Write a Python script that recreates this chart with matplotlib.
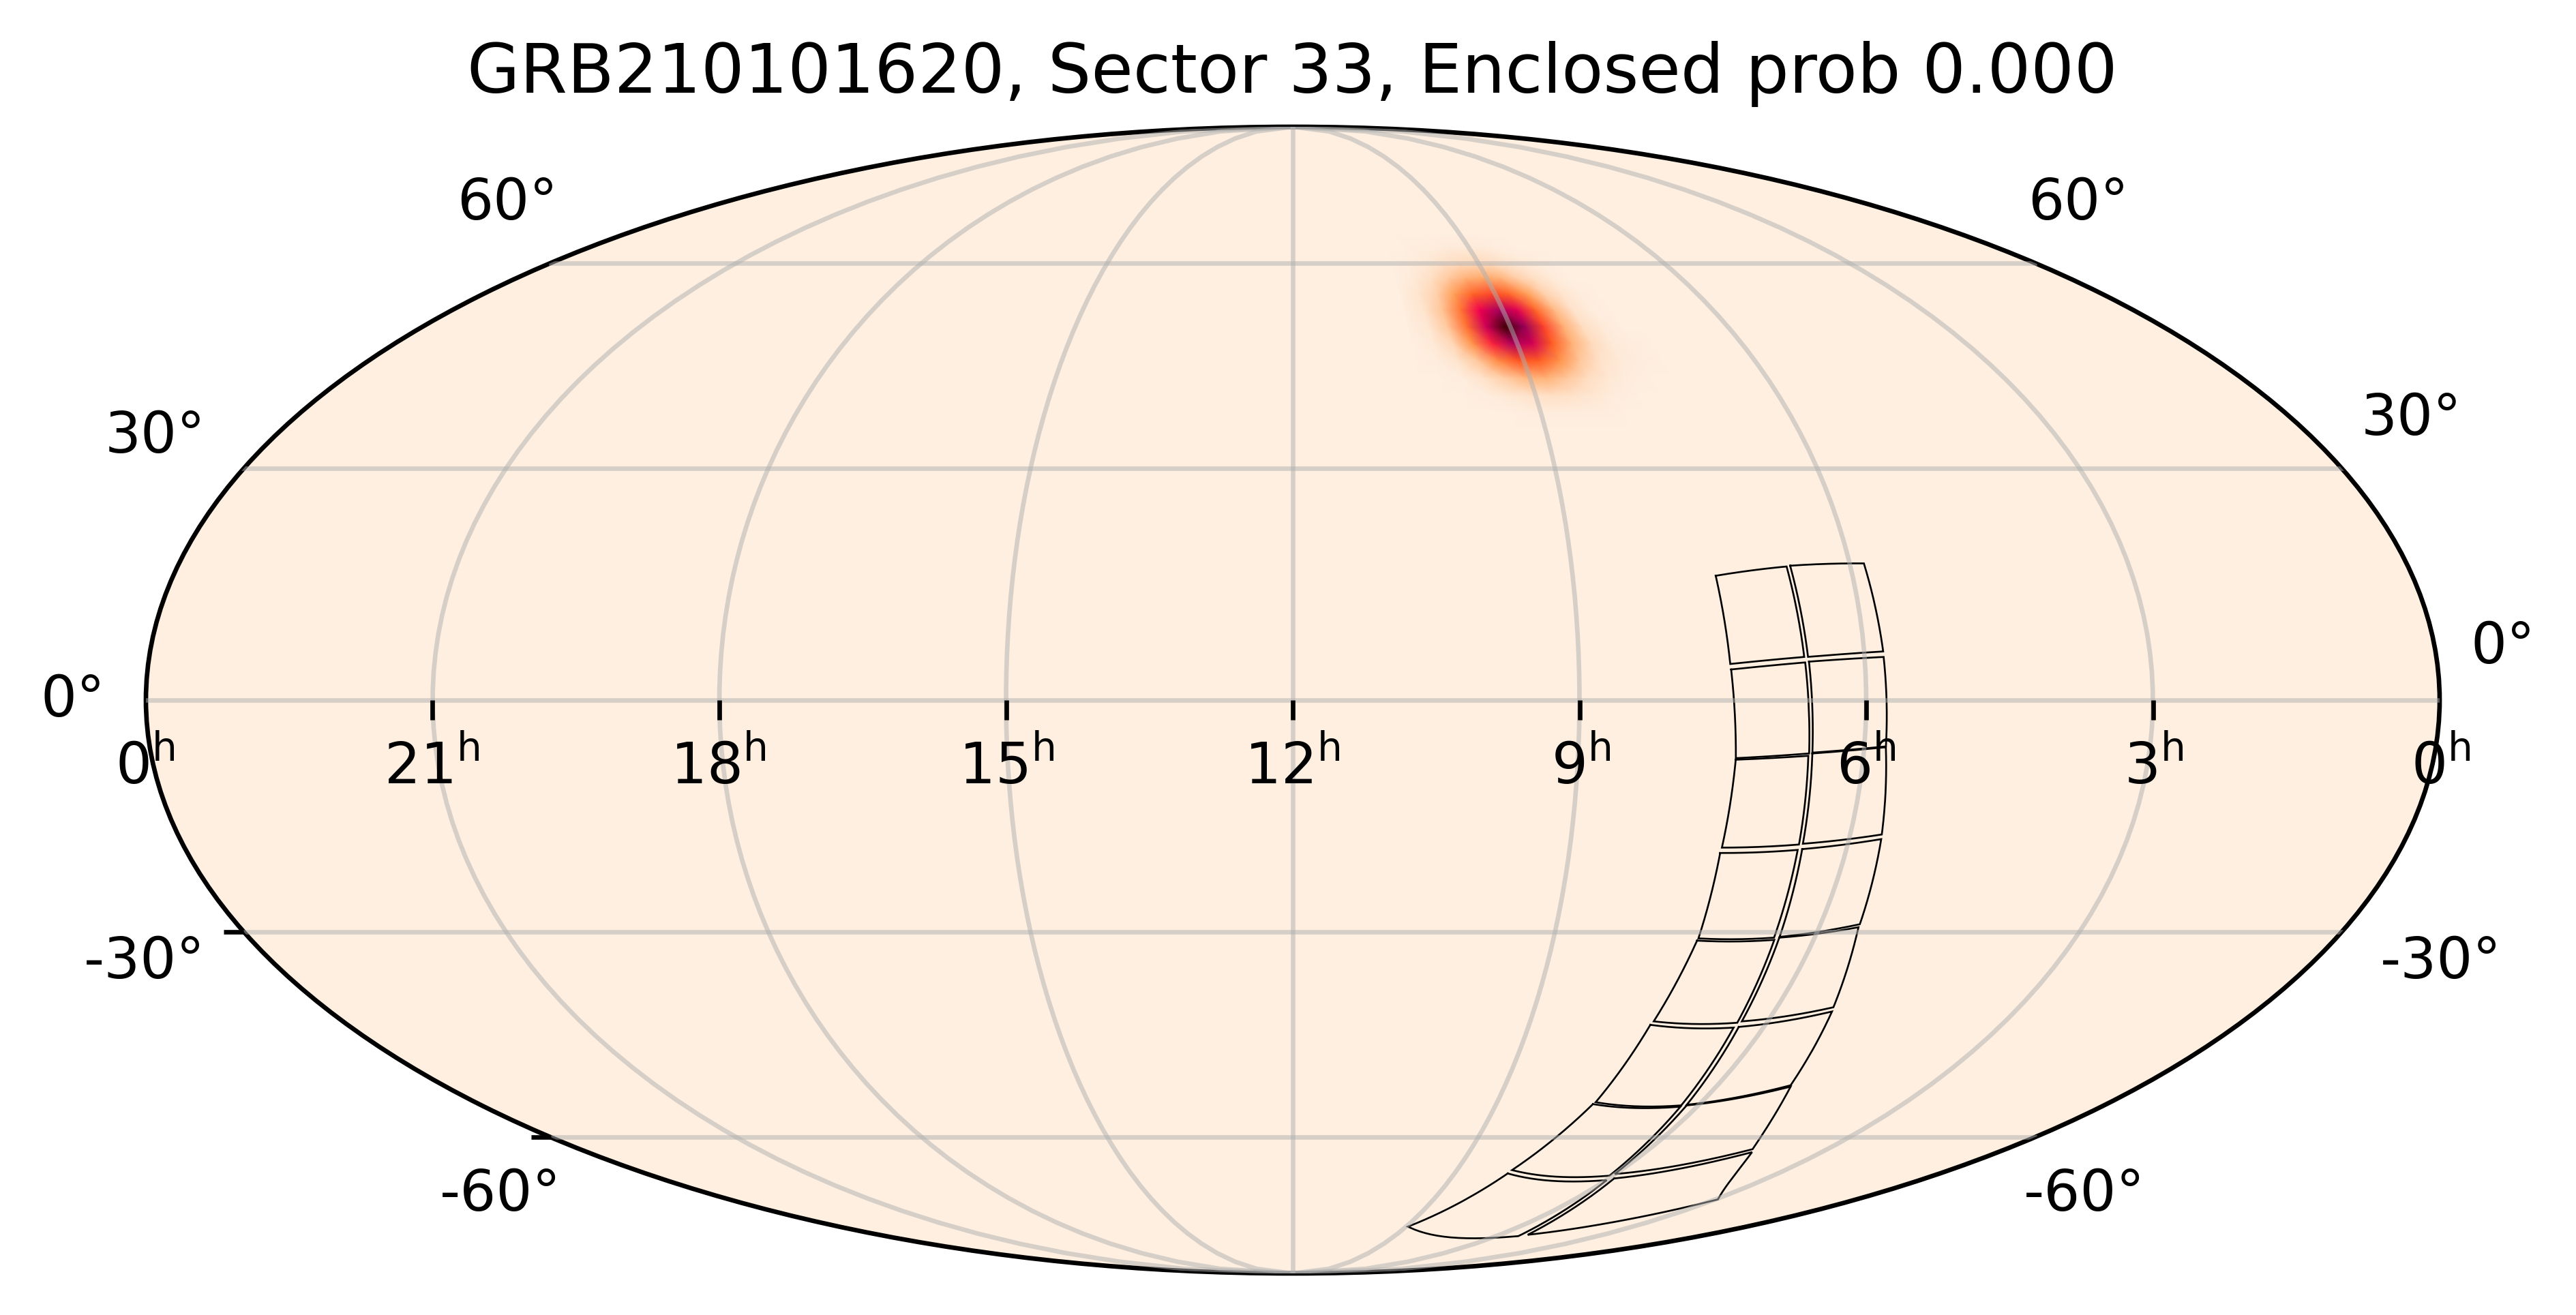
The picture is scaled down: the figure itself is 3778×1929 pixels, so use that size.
import numpy as np
import matplotlib
matplotlib.use('Agg')
import matplotlib.pyplot as plt
from matplotlib.colors import LinearSegmentedColormap
from matplotlib.markers import TICKDOWN, TICKLEFT
from matplotlib.ticker import NullFormatter

TITLE = "GRB210101620, Sector 33, Enclosed prob 0.000"

# Camera/CCD outlines: corners of each of 16 CCDs, degrees
ccd_ra = [
    [112.0, 100.3, 99.5, 111.2], [99.7, 87.7, 87.0, 98.9],
    [111.1, 99.4, 98.6, 110.1], [98.8, 87.0, 86.6, 98.1],
    [110.1, 98.7, 97.9, 110.3], [98.1, 86.6, 84.9, 97.3],
    [110.4, 97.9, 97.0, 110.0], [97.2, 84.8, 83.3, 96.1],
    [110.1, 96.8, 95.6, 111.6], [96.1, 83.3, 79.5, 94.9],
    [111.9, 95.7, 93.8, 113.3], [94.8, 79.2, 74.5, 92.7],
    [113.6, 93.7, 91.0, 119.9], [92.6, 74.2, 63.9, 90.2],
    [120.2, 89.9, 80.2, 134.3], [88.5, 62.8, 44.2, 77.8],
]
ccd_dec = [
    [15.9, 17.1, 5.5, 4.6], [17.2, 17.5, 6.2, 5.5],
    [3.9, 4.8, -6.8, -7.4], [4.9, 5.5, -5.9, -6.7],
    [-7.6, -7.1, -18.5, -18.9], [-6.8, -6.0, -17.2, -18.4],
    [-19.6, -19.2, -30.8, -30.9], [-19.1, -17.8, -29.0, -30.7],
    [-31.2, -31.1, -42.6, -42.4], [-30.8, -29.4, -40.4, -42.4],
    [-42.9, -43.3, -54.9, -54.4], [-43.2, -41.0, -51.8, -54.8],
    [-54.7, -55.1, -66.6, -65.6], [-54.9, -52.0, -62.0, -66.3],
    [-66.2, -67.4, -78.6, -76.5], [-67.1, -62.5, -71.0, -78.3],
]

# Probability map: rows are declinations, columns RA
prob_dec = [65, 62.5, 60, 57.5, 55, 52.5, 50, 47.5, 45, 42.5, 40, 37.5, 35]
prob_ra = [156, 152, 148, 144, 140, 136, 132, 128, 124, 120, 116, 112, 108]
prob = [
    [.00, .00, .00, .00, .00, .00, .00, .00, .00, .00, .00, .00, .00],
    [.00, .00, .01, .01, .02, .02, .02, .01, .00, .00, .00, .00, .00],
    [.00, .01, .02, .05, .07, .08, .07, .04, .02, .01, .00, .00, .00],
    [.00, .02, .06, .13, .20, .23, .20, .12, .06, .02, .00, .00, .00],
    [.01, .04, .11, .26, .44, .51, .44, .26, .11, .04, .01, .00, .00],
    [.01, .04, .15, .39, .69, .85, .73, .43, .18, .05, .01, .00, .00],
    [.01, .03, .14, .40, .77, .99, .88, .52, .21, .07, .02, .00, .00],
    [.00, .02, .09, .29, .60, .83, .76, .46, .20, .08, .02, .01, .00],
    [.00, .01, .04, .14, .32, .48, .46, .29, .14, .05, .02, .01, .00],
    [.00, .00, .01, .05, .12, .19, .20, .14, .07, .03, .01, .00, .00],
    [.00, .00, .00, .01, .03, .05, .06, .05, .03, .01, .00, .00, .00],
    [.00, .00, .00, .00, .00, .01, .01, .01, .01, .00, .00, .00, .00],
    [.00, .00, .00, .00, .00, .00, .00, .00, .00, .00, .00, .00, .00],
]
cmap_colors = [(0.0, '#feefe1'), (0.09, '#ffd8b8'), (0.27, '#ff9a50'), (0.47, '#ff5a20'),
               (0.68, '#f5004e'), (0.87, '#a00060'), (0.96, '#6b0020'), (1.0, '#300000')]

# Tick labels and ticks
ra_hours = [0, 21, 18, 15, 12, 9, 6, 3, 0]
ra_label_x = [213, 633, 1053, 1476, 1895, 2319, 2737, 3159, 3580]
ra_tick_hours = [21, 18, 15, 12, 9, 6, 3]
dec_tick_values = [-30, -60]
dec_labels = ['0°', '0°', '60°', '60°', '30°', '30°', '-30°', '-30°', '-60°', '-60°']
dec_label_x = [107, 3671, 744, 3048, 228, 3537, 212, 3580, 734, 3057]
dec_label_y = [1051, 973, 322, 322, 664, 638, 1435, 1435, 1776, 1776]

W, H = 3779, 1929
DPI = 600
fig = plt.figure(figsize=(W / DPI, H / DPI), dpi=DPI)
ax = fig.add_axes([212 / W, 1 - 1868 / H, 3368 / W, 1682 / H], projection='mollweide')
cmap = LinearSegmentedColormap.from_list('sky', cmap_colors)
ax.set_facecolor(cmap(0.0))


def to_lon(ra):
    return np.radians(180.0 - np.asarray(ra, dtype=float))


def px(x, y):
    return x / W, 1 - y / H


lon_g, lat_g = np.meshgrid(to_lon(prob_ra), np.radians(prob_dec))
ax.pcolormesh(lon_g, lat_g, np.array(prob), cmap=cmap, vmin=0, vmax=1,
              shading='gouraud', zorder=1)


def great_circle(ra1, dec1, ra2, dec2, n=30):
    a = np.radians([ra1, dec1])
    b = np.radians([ra2, dec2])
    v1 = np.array([np.cos(a[1]) * np.cos(a[0]), np.cos(a[1]) * np.sin(a[0]), np.sin(a[1])])
    v2 = np.array([np.cos(b[1]) * np.cos(b[0]), np.cos(b[1]) * np.sin(b[0]), np.sin(b[1])])
    w = np.arccos(np.clip(v1 @ v2, -1, 1))
    t = np.linspace(0, 1, n)
    pts = (np.sin((1 - t) * w)[:, None] * v1 + np.sin(t * w)[:, None] * v2) / np.sin(w)
    return np.degrees(np.arctan2(pts[:, 1], pts[:, 0])), np.degrees(np.arcsin(pts[:, 2]))


for ras, decs in zip(ccd_ra, ccd_dec):
    xs, ys = [], []
    for k in range(4):
        r, d = great_circle(ras[k], decs[k], ras[(k + 1) % 4], decs[(k + 1) % 4])
        xs.append(r)
        ys.append(d)
    ax.plot(to_lon(np.concatenate(xs)), np.radians(np.concatenate(ys)),
            color='k', lw=0.32, zorder=2, solid_joinstyle='miter')

ax.set_longitude_grid(45)
ax.set_latitude_grid(30)
ax.set_longitude_grid_ends(90)
ax.xaxis.set_major_formatter(NullFormatter())
ax.yaxis.set_major_formatter(NullFormatter())
ax.set_axisbelow(False)
ax.grid(True, color='#b0b0b0', alpha=0.5, lw=0.8)

for h in ra_tick_hours:
    ax.plot(to_lon(h * 15.0), 0.0, linestyle='none', marker=TICKDOWN, ms=3.5, mew=0.8,
            color='k', clip_on=False, zorder=2.6)
for d in dec_tick_values:
    ax.plot(-np.pi, np.radians(d), linestyle='none', marker=TICKLEFT, ms=3.5, mew=0.8,
            color='k', clip_on=False, zorder=2.6)

x, y = px(1895, 136)
fig.text(x, y, TITLE, fontsize=12, ha='center', va='baseline')
for h, lx in zip(ra_hours, ra_label_x):
    x, y = px(lx, 1150)
    fig.text(x, y, r'$%d^{\mathrm{h}}$' % h, fontsize=10, ha='center', va='baseline', zorder=5)
for s, lx, ly in zip(dec_labels, dec_label_x, dec_label_y):
    x, y = px(lx, ly)
    fig.text(x, y, s, fontsize=10, ha='center', va='baseline')

fig.savefig('out.png', dpi=DPI)
